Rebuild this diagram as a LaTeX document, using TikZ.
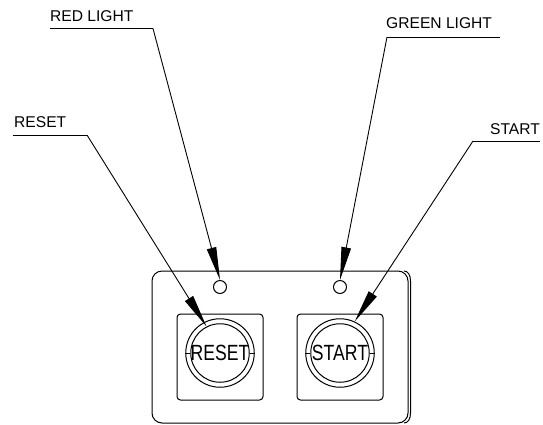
\documentclass[tikz,border=0pt]{standalone}
\usepackage{fontspec}
\setmainfont{Liberation Sans}
\usetikzlibrary{arrows.meta}
\tikzset{
  panelline/.style={draw=black,line width=1pt},
  btnbox/.style={draw=black,line width=1pt,rounded corners=3.5pt},
  leader/.style={draw=black,line width=0.9pt},
  pointer/.style={leader,-{Triangle[length=33pt,width=9.5pt]}},
  tag/.style={inner sep=0pt,anchor=base west,font=\fontsize{15.6}{18}\selectfont},
  lamp/.style={circle,draw=black,line width=1pt,minimum size=13pt,inner sep=0pt},
  btnouter/.style={circle,draw=black,line width=1pt,minimum size=68.5pt,inner sep=0pt},
  btninner/.style={circle,draw=black,line width=1pt,minimum size=58.5pt,inner sep=0pt},
  btntext/.style={inner sep=0pt,xscale=0.8,transform shape,font=\fontsize{22}{24}\selectfont}
}
\begin{document}
\begin{tikzpicture}[x=1pt,y=-1pt]
\useasboundingbox (0,0) rectangle (543,424);
% panel
\draw[panelline,rounded corners=10pt] (152,271) rectangle (408,423);
\draw[panelline] (404,271) .. controls (408,271) and (410.5,275) .. (410.5,281) -- (410.5,413) .. controls (410.5,419) and (408,423) .. (404,423);
% boxes
\node[btnbox,minimum width=86pt,minimum height=86pt,inner sep=0pt] (boxR) at (220,357) {};
\node[btnbox,minimum width=86pt,minimum height=86pt,inner sep=0pt] (boxS) at (340,357) {};
% buttons
\node[btnouter] (outR) at (220,353) {};
\node[btninner] (inR) at (220,353) {};
\node[btnouter] (outS) at (340,353) {};
\node[btninner] (inS) at (340,353) {};
\draw[leader] (outR.west) -- (inR.west) (inR.east) -- (outR.east);
\draw[leader] (outS.west) -- (inS.west) (inS.east) -- (outS.east);
\node[btntext] (tR) at (220,353) {RESET};
\node[btntext] (tS) at (340,353) {START};
% lamps
\node[lamp] (lampR) at (220,287) {};
\node[lamp] (lampG) at (340,287) {};
% labels
\node[tag] (lblRL) at (50,21.5) {RED LIGHT};
\node[tag] (lblGL) at (386,28) {GREEN LIGHT};
\node[tag] (lblR) at (14,127) {RESET};
\node[tag] (lblS) at (490,134) {START};
% leaders
\coordinate (a1) at (50,28.5); \coordinate (a2) at (153,28.5);
\coordinate (b1) at (500,37); \coordinate (b2) at (387,37);
\coordinate (c1) at (13,135); \coordinate (c2) at (87,135);
\coordinate (d1) at (540,141); \coordinate (d2) at (473,141);
\draw[leader] (a1) -- (a2);
\draw[pointer] (a2) -- (lampR.north);
\draw[leader] (b1) -- (b2);
\draw[pointer] (b2) -- (lampG.north);
\draw[leader] (c1) -- (c2);
\draw[pointer] (c2) -- (inR.117);
\draw[leader] (d1) -- (d2);
\draw[pointer] (d2) -- (outS.65);
\end{tikzpicture}
\end{document}
